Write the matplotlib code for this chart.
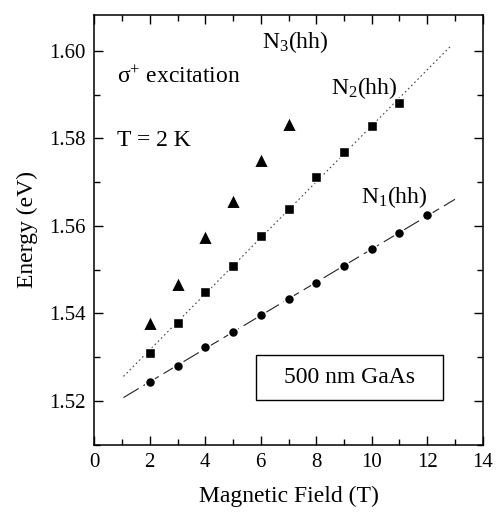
import numpy as np
import matplotlib
matplotlib.use("Agg")
import matplotlib.pyplot as plt
from matplotlib.patches import Rectangle
from matplotlib.ticker import MultipleLocator

plt.rcParams['font.family'] = ['Liberation Serif', 'DejaVu Serif']
plt.rcParams['mathtext.fontset'] = 'custom'
plt.rcParams['mathtext.rm'] = 'Liberation Serif'
plt.rcParams['mathtext.it'] = 'Liberation Serif:italic'

# Data
b_n1 = [2, 3, 4, 5, 6, 7, 8, 9, 10, 11, 12]
e_n1 = [1.5243, 1.5279, 1.5323, 1.5358, 1.5396, 1.5432, 1.5470, 1.5508, 1.5547, 1.5583, 1.5625]
b_n2 = [2, 3, 4, 5, 6, 7, 8, 9, 10, 11]
e_n2 = [1.5310, 1.5377, 1.5448, 1.5509, 1.5576, 1.5638, 1.5711, 1.5768, 1.5829, 1.5880]
b_n3 = [2, 3, 4, 5, 6, 7]
e_n3 = [1.5377, 1.5468, 1.5575, 1.5657, 1.5750, 1.5832]
fit_n1_range = [1.05, 13.0]
fit_n2_range = [1.05, 12.82]

fig = plt.figure(figsize=(4.98, 5.15), dpi=100)
ax = fig.add_axes([0.1894, 0.1359, 0.7799, 0.8350])

# fit lines
p1 = np.polyfit(b_n1, e_n1, 1)
xx1 = np.array(fit_n1_range)
ax.plot(xx1, np.polyval(p1, xx1), color='#222222', lw=0.8, dashes=(16, 5), zorder=1)
p2 = np.polyfit(b_n2, e_n2, 1)
xx2 = np.array(fit_n2_range)
ax.plot(xx2, np.polyval(p2, xx2), color='#444444', lw=0.8, linestyle=(0, (1.5, 2.5)), zorder=1)

ax.plot(b_n1, e_n1, 'o', color='black', ms=7.3, mec='white', mew=1.2, zorder=3)
ax.plot(b_n2, e_n2, 's', color='black', ms=6.5, mec='white', mew=1.0, zorder=3)
ax.plot(b_n3, e_n3, '^', color='black', ms=9.5, mec='white', mew=0.8, zorder=3)

ax.set_xlim(0, 14)
ax.set_ylim(1.5099, 1.6082)
ax.xaxis.set_major_locator(MultipleLocator(2))
ax.xaxis.set_minor_locator(MultipleLocator(1))
ax.yaxis.set_major_locator(MultipleLocator(0.02))
ax.yaxis.set_minor_locator(MultipleLocator(0.01))
ax.yaxis.set_major_formatter(matplotlib.ticker.FormatStrFormatter('%.2f'))
ax.tick_params(which='both', direction='in', top=True, right=True, labelsize=15, width=1.0)
ax.tick_params(which='major', length=6.5, pad=6)
ax.tick_params(which='minor', length=4)
for s in ax.spines.values():
    s.set_linewidth(1.1)

ax.set_xlabel('Magnetic Field (T)', fontsize=17, labelpad=10)
ax.set_ylabel('Energy (eV)', fontsize=17, labelpad=8)

ax.text(0.81, 1.5940, r'$\mathrm{\sigma^{+}}$ excitation', fontsize=17, va='center', ha='left')
ax.text(0.81, 1.5796, 'T = 2 K', fontsize=17, va='center', ha='left')
ax.text(6.03, 1.6020, r'N$_3$(hh)', fontsize=17, va='center', ha='left')
ax.text(8.52, 1.5915, r'N$_2$(hh)', fontsize=17, va='center', ha='left')
ax.text(9.60, 1.5666, r'N$_1$(hh)', fontsize=17, va='center', ha='left')

ax.add_patch(Rectangle((5.82, 1.5203), 12.58 - 5.82, 1.5304 - 1.5203,
                       fill=False, edgecolor='black', lw=1.0, zorder=2))
ax.text((5.82 + 12.58) / 2, (1.5203 + 1.5304) / 2, '500 nm GaAs', fontsize=17,
        ha='center', va='center')

fig.savefig('out.png', dpi=100)
